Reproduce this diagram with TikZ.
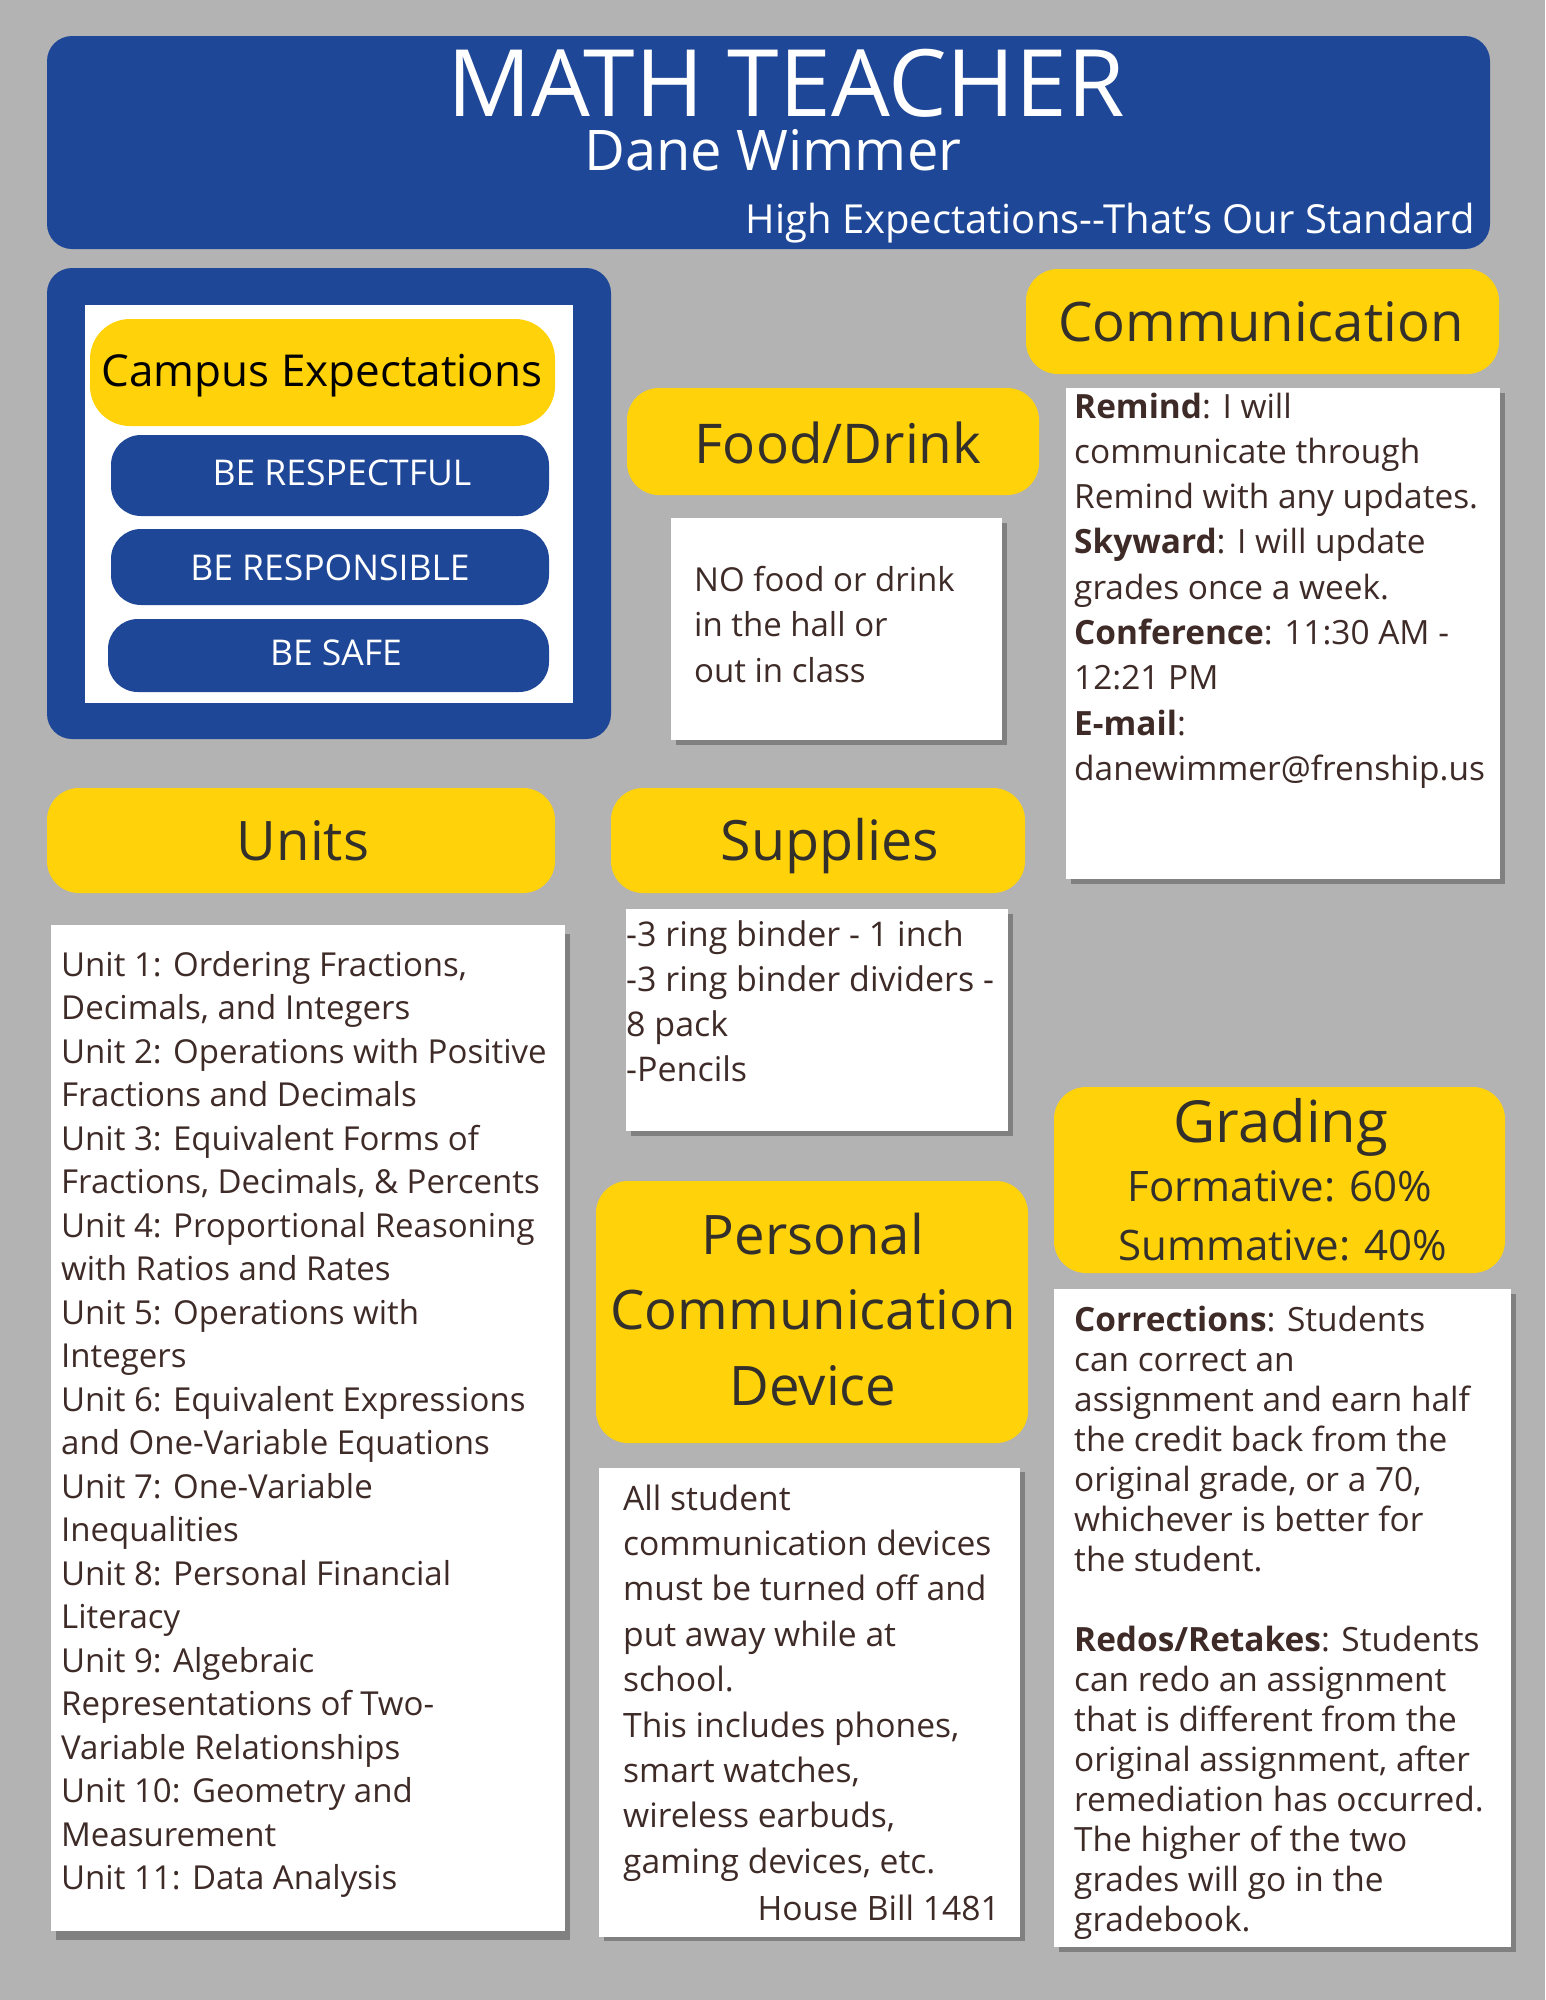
\documentclass[tikz,border=0pt]{standalone}
\usepackage{fontspec}
\setmainfont{Open Sans}
\definecolor{bgc}{RGB}{179,179,179}
\definecolor{bluec}{RGB}{31,71,151}
\definecolor{yelc}{RGB}{255,210,10}
\definecolor{txtc}{RGB}{62,43,40}
\definecolor{ttlc}{RGB}{51,47,43}
\definecolor{shdc}{RGB}{128,128,128}
\tikzset{
  bluebox/.style={fill=bluec, rounded corners=25pt},
  yelbox/.style={fill=yelc, rounded corners=32pt},
  pill/.style={fill=bluec, rounded corners=30pt},
  whitebox/.style={fill=white},
  shadowbox/.style={fill=shdc},
  ttl/.style={anchor=base, inner sep=0pt, text=ttlc},
  wtxt/.style={anchor=base, inner sep=0pt, text=white},
  body/.style={anchor=base west, inner sep=0pt, text=txtc},
}
\begin{document}
\begin{tikzpicture}[x=1pt,y=-1pt]
\useasboundingbox (0,0) rectangle (1545,2000);
\fill[bgc] (0,0) rectangle (1545,2000);

% header
\fill[bluebox] (47,36) rectangle (1490,249);
\node[wtxt, font=\fontsize{93}{100}\selectfont] (title) at (786,116) {MATH TEACHER};
\node[wtxt, font=\fontsize{56}{64}\selectfont] (name) at (773,170) {Dane Wimmer};
\node[wtxt, anchor=base east, font=\fontsize{40}{46}\selectfont] (motto) at (1475,233) {High Expectations-{}-That’s Our Standard};

% campus expectations
\fill[bluebox] (47,268) rectangle (611,739);
\fill[white] (85,305) rectangle (573,703);
\fill[yelbox, rounded corners=40pt] (90,319) rectangle (555,426);
\node[ttl, text=black, font=\fontsize{44}{50}\selectfont] (campus) at (322,386) {Campus Expectations};
\fill[pill] (111,435) rectangle (549,516);
\node[wtxt, font=\fontsize{35.5}{40}\selectfont] (resp) at (342,485) {BE RESPECTFUL};
\fill[pill] (111,529) rectangle (549,605);
\node[wtxt, font=\fontsize{35.5}{40}\selectfont] (respons) at (330,580) {BE RESPONSIBLE};
\fill[pill] (108,619) rectangle (549,692);
\node[wtxt, font=\fontsize{35.5}{40}\selectfont] (safe) at (336,665) {BE SAFE};

% food/drink
\fill[yelbox] (627,388) rectangle (1039,495);
\node[ttl, font=\fontsize{54.8}{62}\selectfont] (food) at (838,463) {Food/Drink};
\fill[shadowbox] (676,523) rectangle (1007,745);
\fill[whitebox] (671,518) rectangle (1002,740);
\node[body] (foodtxt) at (694,591) {\parbox[t]{300pt}{\raggedright\fontsize{33}{45.5}\selectfont
NO food or drink\\in the hall or\\out in class}};

% communication
\fill[yelbox] (1026,269) rectangle (1499,374);
\node[ttl, font=\fontsize{54.5}{64}\selectfont] (comm) at (1261,341) {Communication};
\fill[shadowbox] (1071,393) rectangle (1505,884);
\fill[whitebox] (1066,388) rectangle (1500,879);
\node[body] (commtxt) at (1074,418) {\parbox[t]{430pt}{\raggedright\fontsize{33.4}{45.3}\selectfont
\textbf{Remind}: I will\\communicate through\\Remind with any updates.\\\textbf{Skyward}: I will update\\grades once a week.\\\textbf{Conference}: 11:30 AM -\\12:21 PM\\\textbf{E-mail}:\\danewimmer@frenship.us}};

% units
\fill[yelbox] (47,788) rectangle (555,893);
\node[ttl, font=\fontsize{54.5}{60}\selectfont] (units) at (303,860) {Units};
\fill[shadowbox] (56,934) rectangle (570,1940);
\fill[whitebox] (51,925) rectangle (565,1931);
\node[body] (unitstxt) at (61,976) {\parbox[t]{500pt}{\raggedright\fontsize{33}{43.52}\selectfont
Unit 1: Ordering Fractions,\\Decimals, and Integers\\Unit 2: Operations with Positive\\Fractions and Decimals\\Unit 3: Equivalent Forms of\\Fractions, Decimals, \& Percents\\Unit 4: Proportional Reasoning\\with Ratios and Rates\\Unit 5: Operations with\\Integers\\Unit 6: Equivalent Expressions\\and One-Variable Equations\\Unit 7: One-Variable\\Inequalities\\Unit 8: Personal Financial\\Literacy\\Unit 9: Algebraic\\Representations of Two-\\Variable Relationships\\Unit 10: Geometry and\\Measurement\\Unit 11: Data Analysis}};

% supplies
\fill[yelbox] (611,788) rectangle (1025,893);
\node[ttl, font=\fontsize{55.6}{60}\selectfont] (supp) at (830,860) {Supplies};
\fill[shadowbox] (631,914) rectangle (1013,1136);
\fill[whitebox] (626,909) rectangle (1008,1131);
\node[body] (supptxt) at (626,946) {\parbox[t]{400pt}{\raggedright\fontsize{34}{45}\selectfont
-3 ring binder - 1 inch\\-3 ring binder dividers -\\8 pack\\-Pencils}};

% grading
\fill[yelbox] (1054,1087) rectangle (1505,1273);
\node[ttl, font=\fontsize{58}{64}\selectfont] (grad) at (1281,1142) {Grading};
\node[ttl, font=\fontsize{42}{48}\selectfont] (form) at (1280,1201) {Formative: 60\%};
\node[ttl, font=\fontsize{42}{48}\selectfont] (summ) at (1283,1260) {Summative: 40\%};
\fill[shadowbox] (1059,1294) rectangle (1516,1952);
\fill[whitebox] (1054,1289) rectangle (1511,1947);
\node[body] (gradtxt) at (1074,1331) {\parbox[t]{440pt}{\raggedright\fontsize{33.4}{40}\selectfont
\textbf{Corrections}: Students\\can correct an\\assignment and earn half\\the credit back from the\\original grade, or a 70,\\whichever is better for\\the student.\\\mbox{}\\\textbf{Redos/Retakes}: Students\\can redo an assignment\\that is different from the\\original assignment, after\\remediation has occurred.\\The higher of the two\\grades will go in the\\gradebook.}};

% personal communication device
\fill[yelbox] (596,1181) rectangle (1028,1443);
\node[ttl, font=\fontsize{54.5}{60}\selectfont] (pcd1) at (813,1254) {Personal};
\node[ttl, font=\fontsize{54.5}{60}\selectfont] (pcd2) at (813,1329) {Communication};
\node[ttl, font=\fontsize{54.5}{60}\selectfont] (pcd3) at (813,1405) {Device};
\fill[shadowbox] (604,1472) rectangle (1025,1941);
\fill[whitebox] (599,1468) rectangle (1020,1937);
\node[body] (pcdtxt) at (623,1510) {\parbox[t]{400pt}{\raggedright\fontsize{33.6}{45.4}\selectfont
All student\\communication devices\\must be turned off and\\put away while at\\school.\\This includes phones,\\smart watches,\\wireless earbuds,\\gaming devices, etc.}};
\node[body, anchor=base east, font=\fontsize{33.6}{36}\selectfont] (bill) at (1000,1920) {House Bill 1481};
\end{tikzpicture}
\end{document}
